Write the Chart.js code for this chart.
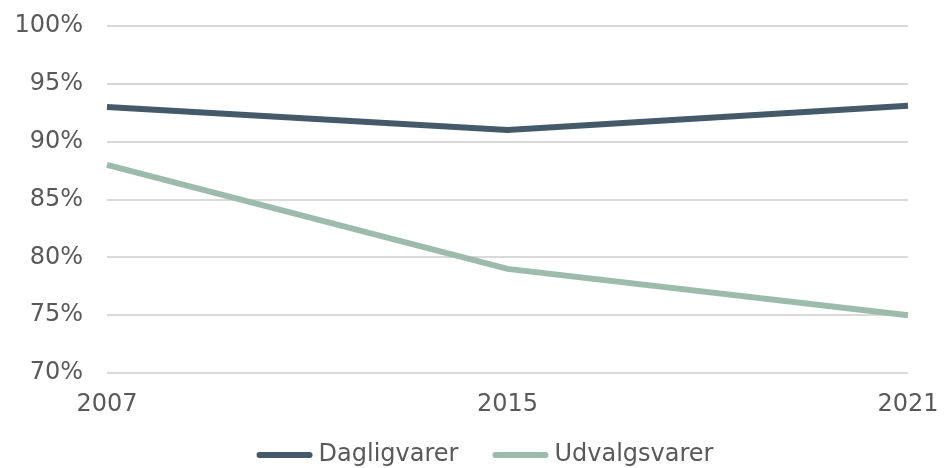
<!DOCTYPE html>
<html>
<head>
<meta charset="utf-8">
<script src="https://cdn.jsdelivr.net/npm/chart.js@4/dist/chart.umd.min.js"></script>
<style>
  html, body { margin: 0; padding: 0; background: #fff; }
  #wrap { width: 950px; height: 468px; position: relative; }
</style>
</head>
<body>
<div id="wrap"><canvas id="lineChart"></canvas></div>
<script>
// Data
const years = ["2007", "2015", "2021"];
const dagligvarer = [93, 91, 93.1];
const udvalgsvarer = [88, 79, 75];

const textColor = "#595959";
const fontFamily = "'DejaVu Sans', Verdana, sans-serif";

// legend drawn as short thick lines followed by the label, like the original
const lineLegend = {
  id: "lineLegend",
  afterDraw(chart) {
    const c = chart.ctx;
    const sets = chart.data.datasets;
    c.save();
    c.font = "24px " + fontFamily;
    c.textBaseline = "middle";
    const lineW = 56, gap = 6, itemGap = 34;
    let total = 0;
    sets.forEach((ds, i) => {
      total += lineW + gap + c.measureText(ds.label).width;
      if (i < sets.length - 1) total += itemGap;
    });
    let x = 485 - total / 2;
    const y = 455;
    sets.forEach(ds => {
      c.strokeStyle = ds.borderColor;
      c.lineWidth = 6;
      c.lineCap = "round";
      c.beginPath();
      c.moveTo(x + 3, y);
      c.lineTo(x + lineW - 3, y);
      c.stroke();
      x += lineW + gap;
      c.fillStyle = textColor;
      c.fillText(ds.label, x, y);
      x += c.measureText(ds.label).width + itemGap;
    });
    c.restore();
  }
};

const ctx = document.getElementById("lineChart").getContext("2d");
const myChart = new Chart(ctx, {
  type: "line",
  data: {
    labels: years,
    datasets: [
      {
        label: "Dagligvarer",
        data: dagligvarer,
        borderColor: "#44596a",
        backgroundColor: "#44596a",
        borderWidth: 6,
        pointRadius: 0,
        tension: 0
      },
      {
        label: "Udvalgsvarer",
        data: udvalgsvarer,
        borderColor: "#9dbbad",
        backgroundColor: "#9dbbad",
        borderWidth: 6,
        pointRadius: 0,
        tension: 0
      }
    ]
  },
  plugins: [lineLegend],
  options: {
    responsive: true,
    maintainAspectRatio: false,
    animation: false,
    layout: {
      padding: { top: 26, right: 42, left: 14, bottom: 50 }
    },
    scales: {
      x: {
        offset: false,
        grid: { display: false, drawTicks: false },
        border: { display: false },
        ticks: {
          color: textColor,
          font: { family: fontFamily, size: 24 },
          maxRotation: 0,
          padding: 17
        },
        afterFit(scale) {
          scale.height = 45;
          scale.paddingLeft = 0;
          scale.paddingRight = 0;
        }
      },
      y: {
        min: 70,
        max: 100,
        grid: { color: "#d9d9d9", lineWidth: 2, drawTicks: false },
        border: { display: false },
        ticks: {
          stepSize: 5,
          color: textColor,
          font: { family: fontFamily, size: 24 },
          padding: 24,
          callback: function (v) { return v + "%"; }
        },
        afterFit(scale) {
          scale.width = 93;
          scale.paddingTop = 0;
          scale.paddingBottom = 0;
        }
      }
    },
    plugins: {
      legend: { display: false },
      tooltip: { enabled: false }
    }
  }
});
</script>
</body>
</html>
